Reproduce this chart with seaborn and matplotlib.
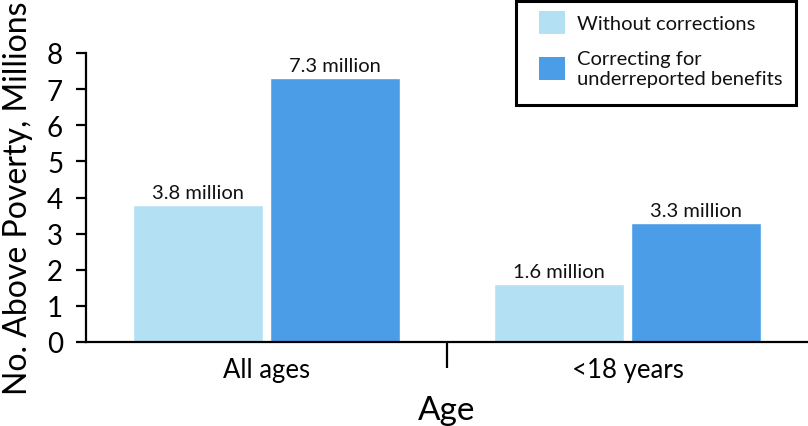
import matplotlib
matplotlib.use("Agg")
import matplotlib.pyplot as plt
import seaborn as sns
import pandas as pd
from matplotlib.patches import Patch, Rectangle

# ---- data ----
categories = ["All ages", "<18 years"]
series = ["Without corrections", "Correcting for\nunderreported benefits"]
without_corrections = [3.8, 1.6]
with_corrections = [7.3, 3.3]
bar_labels_without = ["3.8 million", "1.6 million"]
bar_labels_with = ["7.3 million", "3.3 million"]
y_ticks = [0, 1, 2, 3, 4, 5, 6, 7, 8]

colors = ["#b3e0f2", "#4a9de6"]

sns.set_theme(style="ticks")
plt.rcParams["font.family"] = ["Lato", "DejaVu Sans"]

df = pd.DataFrame({
    "Age": categories * 2,
    "value": without_corrections + with_corrections,
    "series": [series[0]] * 2 + [series[1]] * 2,
})

W, H = 808, 427
fig = plt.figure(figsize=(W / 100, H / 100), dpi=100)
ax = fig.add_axes([86 / W, 1 - 343 / H, 1 - 86 / W, (343 - 54) / H])

sns.barplot(data=df, x="Age", y="value", hue="series", hue_order=series,
            order=categories, palette=colors, saturation=1, width=0.76,
            gap=0.05, ax=ax, legend=False)

for cont, labs in zip(ax.containers, [bar_labels_without, bar_labels_with]):
    ax.bar_label(cont, labels=labs, padding=3, fontsize=14.5, color="#111111")

ax.set_xlim(-0.5, 1.5)
ax.set_ylim(0, 8)
ax.set_yticks(y_ticks)
ax.set_yticklabels([str(t) for t in y_ticks])

for s in ["top", "right"]:
    ax.spines[s].set_visible(False)
for s in ["left", "bottom"]:
    ax.spines[s].set_linewidth(1.6)
    ax.spines[s].set_color("black")

ax.tick_params(axis="y", direction="out", length=7.5, width=1.6, pad=9,
               labelsize=20, colors="black")
ax.tick_params(axis="x", which="major", length=0, pad=11, labelsize=18.5,
               colors="black")
ax.set_xticks([0.5], minor=True)
ax.tick_params(axis="x", which="minor", direction="out", length=19, width=1.6,
               color="black")

ax.set_ylabel("No. Above Poverty, Millions", fontsize=23, labelpad=10,
              color="black")
ax.set_xlabel("Age", fontsize=24, labelpad=9, color="black")

# legend (frame drawn separately to match the reference box)
handles = [Patch(facecolor=c, edgecolor="none") for c in colors]
leg = fig.legend(handles, series, loc="upper left",
                 bbox_to_anchor=(539 / W, 1 - 12 / H),
                 bbox_transform=fig.transFigure, borderaxespad=0,
                 borderpad=0, fontsize=14.5, frameon=False,
                 handlelength=1.3, handleheight=1.35, handletextpad=0.6,
                 labelspacing=0.8)
for t in leg.get_texts():
    t.set_color("#111111")
fig.add_artist(Rectangle((516 / W, 1 - 106 / H), (796 - 516) / W, (106 - 2) / H,
                         transform=fig.transFigure, fill=False,
                         edgecolor="black", linewidth=2.2))

fig.savefig("out.png", dpi=100)
